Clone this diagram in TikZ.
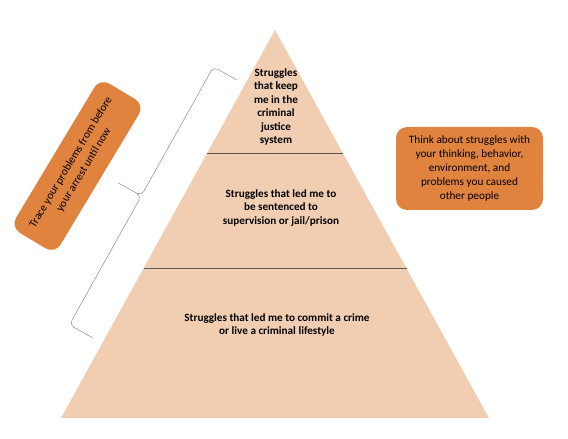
\documentclass[tikz,border=0pt]{standalone}
\usepackage{fontspec}
\setmainfont{Carlito}
\usetikzlibrary{positioning}

\definecolor{peach}{HTML}{F1CEB1}
\definecolor{notebg}{HTML}{E0833F}
\definecolor{linegray}{HTML}{5A5A5A}

\begin{document}
\begin{tikzpicture}[
    x=1bp, y=-1bp,
    % Style for the text inside the pyramid levels
    level_text/.style={
        align=center,
        font=\fontsize{11.2}{13.6}\selectfont\bfseries,
        inner sep=0pt
    },
    % Style for the orange note boxes
    note_box/.style={
        rectangle,
        rounded corners=11bp,
        fill=notebg,
        align=center,
        inner sep=2pt,
        font=\fontsize{11.3}{14}\selectfont
    },
    % Style for the lines between the levels
    divider/.style={
        draw=linegray,
        line width=0.7pt
    },
    % Style for the curly bracket
    brace_line/.style={
        draw=black!45,
        line width=0.5pt,
        rounded corners=5bp
    }
]
\useasboundingbox (0,0) rectangle (568,439);

% 1. The pyramid and its levels
\coordinate (apex) at (275,30);
\coordinate (base_left) at (61,418);
\coordinate (base_right) at (489,418);
\fill[peach] (apex) -- (base_left) -- (base_right) -- cycle;

\coordinate (top_left) at (207,153);
\coordinate (top_right) at (343,153);
\coordinate (mid_left) at (144,268);
\coordinate (mid_right) at (407,268);
\draw[divider] (top_left) -- (top_right);
\draw[divider] (mid_left) -- (mid_right);

\node[level_text] (level_top) at (276,107)
    {Struggles\\that keep\\me in the\\criminal\\justice\\system};
\node[level_text] (level_mid) at (281,208)
    {Struggles that led me to\\be sentenced to\\supervision or jail/prison};
\node[level_text] (level_base) at (277,325)
    {Struggles that led me to commit a crime\\or live a criminal lifestyle};

% 2. The notes on both sides
\node[note_box, minimum width=147bp, minimum height=83bp] (think_note) at (469.5,168.5)
    {Think about struggles with\\your thinking, behavior,\\environment, and\\problems you caused\\other people};
\node[note_box, minimum width=174bp, minimum height=52bp, rotate=59,
    font=\fontsize{11.3}{15}\selectfont] (trace_note) at (77.5,166)
    {Trace your problems from before\\your arrest until now};

% 3. The bracket along the left side of the pyramid
\coordinate (brace_low) at (93,338);
\coordinate (brace_low_arm) at (69.4,324.8);
\coordinate (brace_mid) at (141.4,195.8);
\coordinate (brace_tip) at (117.9,182.7);
\coordinate (brace_high_arm) at (213.4,66.8);
\coordinate (brace_high) at (237,80);
\draw[brace_line] (brace_low) -- (brace_low_arm) -- (brace_mid) -- (brace_tip)
    (brace_tip) -- (brace_mid) -- (brace_high_arm) -- (brace_high);

\end{tikzpicture}
\end{document}
